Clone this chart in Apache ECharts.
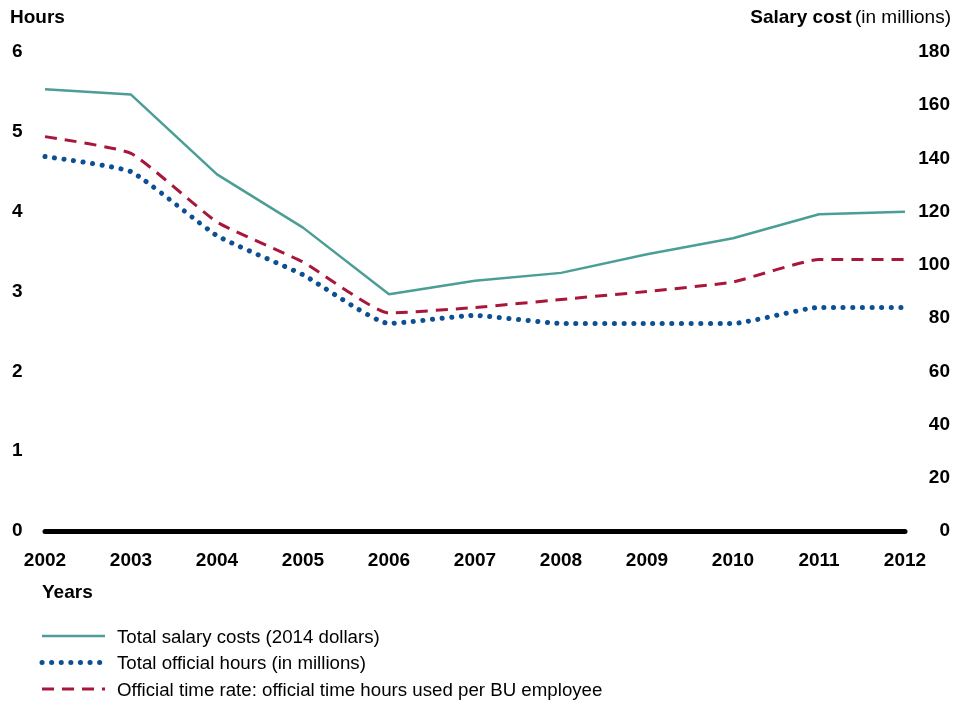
<!DOCTYPE html>
<html>
<head>
<meta charset="utf-8">
<script src="https://cdn.jsdelivr.net/npm/echarts@6/dist/echarts.min.js"></script>
<style>
  html, body { margin: 0; padding: 0; background: #fff; }
  #chart { width: 971px; height: 707px; }
</style>
</head>
<body>
<div id="chart"></div>
<script>
// data
var years = ['2002', '2003', '2004', '2005', '2006', '2007', '2008', '2009', '2010', '2011', '2012']
var salaryCost = [166, 164, 134, 114, 89, 94, 97, 104, 110, 119, 120]       // right axis, millions
var officialHours = [4.69, 4.5, 3.7, 3.21, 2.6, 2.7, 2.6, 2.6, 2.6, 2.8, 2.8] // left axis
var timeRate = [4.94, 4.73, 3.87, 3.37, 2.73, 2.8, 2.9, 3.0, 3.12, 3.4, 3.4]  // left axis
var legendNames = ['Total salary costs (2014 dollars)', 'Total official hours (in millions)',
  'Official time rate: official time hours used per BU employee']

var font = 'Liberation Sans, Arial, sans-serif'
var fs = 19
var teal = '#4b9e96', blue = '#0d4f93', red = '#a8173b'
var styles = [
  { stroke: teal, lineWidth: 2.5 },
  { stroke: blue, lineWidth: 5, lineDash: [0.1, 9.5], lineCap: 'round' },
  { stroke: red, lineWidth: 3, lineDash: [12, 8] }
]

// hand-drawn legend (line sample + label per row)
var legendGraphics = []
legendNames.forEach(function (name, i) {
  var y = 636 + i * 26.5
  legendGraphics.push({ type: 'line', shape: { x1: 42, y1: y, x2: 105, y2: y }, style: styles[i] })
  legendGraphics.push({
    type: 'text', left: 117, top: y - 8,
    style: { text: name, fontSize: 18.7, fontFamily: font, fill: '#000' }
  })
})

var chart = echarts.init(document.getElementById('chart'))
chart.setOption({
  animation: false,
  textStyle: { fontFamily: font },
  grid: { left: 45, right: 66, top: 52, bottom: 176 },
  xAxis: {
    type: 'category',
    data: years,
    boundaryGap: false,
    axisLine: { lineStyle: { color: '#000', width: 5 } },
    axisTick: { show: false },
    axisLabel: { color: '#000', fontSize: fs, fontWeight: 'bold', margin: 20 }
  },
  yAxis: [
    {
      type: 'value', min: 0, max: 6, interval: 1,
      axisLine: { show: false }, axisTick: { show: false }, splitLine: { show: false },
      axisLabel: { color: '#000', fontSize: fs, fontWeight: 'bold', align: 'left', margin: 33 }
    },
    {
      type: 'value', min: 0, max: 180, interval: 20,
      axisLine: { show: false }, axisTick: { show: false }, splitLine: { show: false },
      axisLabel: { color: '#000', fontSize: fs, fontWeight: 'bold', align: 'right', margin: 45 }
    }
  ],
  graphic: [
    { type: 'text', left: 10, top: 8, style: { text: 'Hours', fontSize: fs, fontWeight: 'bold', fontFamily: font, fill: '#000' } },
    {
      type: 'text', right: 20, top: 8,
      style: {
        text: '{b|Salary cost} {n|(in millions)}',
        rich: {
          b: { fontSize: fs, fontWeight: 'bold', fontFamily: font, fill: '#000' },
          n: { fontSize: fs, fontFamily: font, fill: '#000' }
        }
      }
    },
    { type: 'text', left: 42, top: 583, style: { text: 'Years', fontSize: fs, fontWeight: 'bold', fontFamily: font, fill: '#000' } }
  ].concat(legendGraphics),
  series: [
    {
      name: legendNames[0],
      type: 'line', yAxisIndex: 1, data: salaryCost,
      symbol: 'none',
      lineStyle: { color: teal, width: 2.5 }
    },
    {
      name: legendNames[1],
      type: 'line', yAxisIndex: 0, data: officialHours,
      symbol: 'none', smooth: 0.15,
      lineStyle: { color: blue, width: 5, type: [0.1, 9.5], cap: 'round' }
    },
    {
      name: legendNames[2],
      type: 'line', yAxisIndex: 0, data: timeRate,
      symbol: 'none', smooth: 0.15,
      lineStyle: { color: red, width: 3, type: [12, 8] }
    }
  ]
})
</script>
</body>
</html>
